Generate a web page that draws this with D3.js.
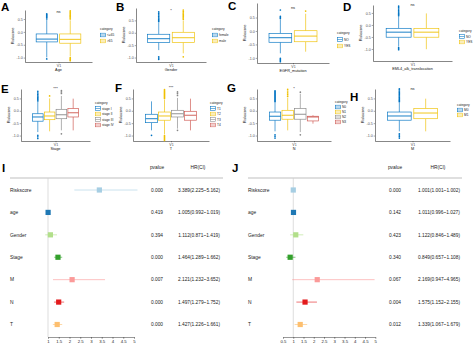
<!DOCTYPE html>
<html>
<head>
<meta charset="utf-8">
<script src="https://cdn.jsdelivr.net/npm/d3@7/dist/d3.min.js"></script>
<style>
  body { margin: 0; background: #fff; }
  svg { display: block; font-family: "Liberation Sans", Arial, Helvetica, sans-serif; }
</style>
</head>
<body>
<svg id="fig" width="474" height="347"></svg>
<script>
// ---- box plot data: [lower whisker, q1, median, q3, upper whisker] per group ----
const boxTicks = [-1, -0.5, 0, 0.5];

const ageGroups = ["<=65", ">65"];
const ageStats = [[-0.99, -0.39, -0.28, -0.08, 0.46], [-0.95, -0.44, -0.29, -0.08, 0.45]];
const ageOut = [[0.50, 0.55, 0.59, 0.63, 0.67, 0.70, -1.05],
                [0.50, 0.54, 0.58, 0.62, 0.66, 0.70, 0.74, 0.78, 0.82, -1.00, -1.04, -1.08, -1.12]];

const genderGroups = ["female", "male"];
const genderStats = [[-0.70, -0.39, -0.24, -0.06, 0.42], [-0.83, -0.39, -0.20, 0.02, 0.50]];
const genderOut = [[0.46, 0.50, 0.55, 0.60, 0.66, 0.72, 0.78, 0.84, -0.97, -1.02, -1.07],
                   [0.55, 0.60, 0.65, 0.70, 0.75, 0.80, 0.86, 0.92, -0.97]];

const egfrGroups = ["NO", "YES"];
const egfrStats = [[-0.83, -0.42, -0.25, -0.09, 0.42], [-0.77, -0.40, -0.19, 0.01, 0.64]];
const egfrOut = [[0.46, 0.50, 0.54, 0.78, -1.02, -1.06, -1.10, -1.14], [0.74]];

const emlGroups = ["NO", "YES"];
const emlStats = [[-0.90, -0.51, -0.30, -0.14, 0.34], [-1.01, -0.51, -0.30, -0.14, 0.48]];
const emlOut = [[0.38, 0.42, 0.46, 0.50, 0.55, 0.60, 0.66, 0.72, 0.78, -0.94, -0.98, -1.03], []];

const stageGroups = ["stage I", "stage II", "stage III", "stage IV"];
const stageStats = [[-0.86, -0.42, -0.25, -0.12, 0.36], [-0.83, -0.36, -0.21, -0.05, 0.50],
                    [-0.79, -0.32, -0.16, 0.06, 0.60], [-0.79, -0.25, -0.08, 0.09, 0.49]];
const stageOut = [[0.40, 0.45, 0.50, 0.55, 0.60, 0.66, 0.72, 0.79, -0.99, -1.05, -1.12],
                  [0.60], [0.70, 0.76, 0.82, -0.93], []];

const tGroups = ["T1", "T2", "T3", "T4"];
const tStats = [[-0.79, -0.48, -0.32, -0.14, 0.38], [-0.95, -0.38, -0.21, -0.05, 0.45],
                [-0.72, -0.25, -0.12, 0.02, 0.52], [-0.79, -0.38, -0.18, -0.02, 0.49]];
const tOut = [[-0.99],
              [0.50, 0.54, 0.58, 0.62, 0.66, 0.70, 0.74, 0.78, 0.82, 0.86, -1.00, -1.04, -1.08, -1.12, -1.16, -1.20],
              [0.62, 0.70, 0.76, -0.79], []];

const nGroups = ["N0", "N1", "N2", "N3"];
const nStats = [[-0.83, -0.38, -0.22, -0.05, 0.33], [-0.79, -0.34, -0.18, 0.02, 0.52],
                [-0.86, -0.34, -0.14, 0.09, 0.69], [-0.52, -0.41, -0.25, -0.22, -0.18]];
const nOut = [[0.37, 0.41, 0.45, 0.49, 0.53, 0.57, 0.61, 0.65, 0.69, 0.73, 0.77, 0.81, -0.97, -1.03, -1.10],
              [0.58, 0.65, 0.72, 0.80, 0.87], [0.75, -0.97], []];

const mGroups = ["M0", "M1"];
const mStats = [[-0.83, -0.38, -0.21, -0.05, 0.33], [-0.83, -0.32, -0.09, 0.09, 0.49]];
const mOut = [[0.37, 0.41, 0.45, 0.50, 0.55, 0.60, 0.65, 0.70, 0.75, 0.80, 0.85, 0.89, -0.93, -0.98, -1.04, -1.10], []];

// ---- Cox regression (univariate I, multivariate J) ----
const coxVars = ["Riskscore", "age", "Gender", "Stage", "M", "N", "T"];
const uniHR   = [3.389, 1.005, 1.112, 1.464, 2.121, 1.497, 1.427];
const uniLow  = [2.225, 0.992, 0.871, 1.289, 1.232, 1.279, 1.226];
const uniHigh = [5.162, 1.019, 1.419, 1.662, 3.652, 1.752, 1.661];
const uniP    = [0.000, 0.419, 0.394, 0.000, 0.007, 0.000, 0.000];
const multiHR   = [1.001, 1.011, 1.122, 0.849, 2.169, 1.575, 1.339];
const multiLow  = [1.001, 0.996, 0.846, 0.657, 0.947, 1.152, 1.067];
const multiHigh = [1.002, 1.027, 1.489, 1.108, 4.965, 2.155, 1.679];
const multiP    = [0.000, 0.142, 0.423, 0.340, 0.067, 0.004, 0.012];
const uniTicks = [1, 1.5, 2, 2.5, 3, 3.5, 4, 4.5, 5];
const multiTicks = [0.5, 1, 1.5, 2, 2.5, 3, 3.5, 4, 4.5, 5];

const jco = ["#0073C2", "#EFC000", "#868686", "#CD534C"];
const paired = ["#A6CEE3", "#1F78B4", "#B2DF8A", "#33A02C", "#FB9A99", "#E31A1C", "#FDBF6F"];

const svg = d3.select("#fig");
const fmt1 = d => d.toFixed(1);

function boxPanel(p) {
  const g = svg.append("g");
  const span = p.c - p.x0;
  const y = d3.scaleLinear().domain(p.ydom).range([p.bottom, p.top]);
  const band = d3.scaleBand().domain(p.groups)
    .range([p.c - span * 2 / 3, p.c + span * 2 / 3]).paddingInner(0.1);
  const xv = d3.scalePoint().domain(["V1"]).range([p.x0, p.c + span]).padding(0.5);

  const ya = g.append("g").attr("transform", `translate(${p.x0},0)`)
    .call(d3.axisLeft(y).tickValues(boxTicks).tickSize(1.3).tickSizeOuter(0).tickPadding(1).tickFormat(fmt1));
  const xa = g.append("g").attr("transform", `translate(0,${p.bottom})`)
    .call(d3.axisBottom(xv).tickSize(1.3).tickSizeOuter(0).tickPadding(0.8));
  [ya, xa].forEach(a => {
    a.select(".domain").attr("stroke", "#222").attr("stroke-width", 0.55);
    a.selectAll(".tick line").attr("stroke", "#333").attr("stroke-width", 0.45);
    a.selectAll(".tick text").attr("font-size", 3.6).attr("fill", "#4d4d4d").attr("font-family", null);
  });

  g.append("text").attr("transform", `translate(${p.x0 - 11},${(p.top + p.bottom) / 2}) rotate(-90)`)
    .attr("text-anchor", "middle").attr("font-size", 3.8).attr("fill", "#111").text("Riskscore");
  g.append("text").attr("x", p.c).attr("y", p.bottom + 9.2).attr("text-anchor", "middle")
    .attr("font-size", 3.8).attr("fill", "#111").text(p.title);

  const w = band.bandwidth();
  p.groups.forEach((grp, i) => {
    const s = p.stats[i], col = jco[i], x = band(grp), xc = x + w / 2;
    const bg = g.append("g").attr("stroke", col).attr("stroke-width", 0.65).attr("fill", "none");
    bg.append("line").attr("x1", xc).attr("x2", xc).attr("y1", y(s[0])).attr("y2", y(s[1]));
    bg.append("line").attr("x1", xc).attr("x2", xc).attr("y1", y(s[3])).attr("y2", y(s[4]));
    bg.append("rect").attr("x", x).attr("width", w).attr("y", y(s[3]))
      .attr("height", y(s[1]) - y(s[3])).attr("fill", "#fff");
    bg.append("line").attr("x1", x).attr("x2", x + w).attr("y1", y(s[2])).attr("y2", y(s[2]))
      .attr("stroke-width", 0.9);
    g.selectAll(null).data(p.out[i]).join("circle")
      .attr("cx", xc).attr("cy", d => y(d)).attr("r", 0.85).attr("fill", col);
  });

  g.append("text").attr("x", p.c).attr("y", p.sigY).attr("text-anchor", "middle")
    .attr("font-size", 4).attr("fill", "#222").text(p.sig);

  // legend
  const lg = g.append("g").attr("transform", `translate(${p.lx},${p.ly})`);
  lg.append("text").attr("y", 1.2).attr("font-size", 3.3).attr("fill", "#222").text("category");
  p.groups.forEach((grp, i) => {
    const yy = (i + 1) * p.step;
    lg.append("rect").attr("x", 0.3).attr("y", yy - 1.8).attr("width", 5).attr("height", 3.6)
      .attr("fill", "#fff").attr("stroke", jco[i]).attr("stroke-width", 0.55);
    lg.append("line").attr("x1", 0.3).attr("x2", 5.3).attr("y1", yy).attr("y2", yy)
      .attr("stroke", jco[i]).attr("stroke-width", 0.55);
    lg.append("text").attr("x", 7).attr("y", yy + 1.2).attr("font-size", 3.2).attr("fill", "#222").text(grp);
  });
}

const row1 = { top: 10, bottom: 62, ydom: [-1.17, 0.85] };
const row2 = { top: 89, bottom: 141, ydom: [-1.22, 0.88] };

boxPanel({ ...row1, x0: 25, c: 58.5, groups: ageGroups, stats: ageStats, out: ageOut, title: "Age",
  sig: "ns", sigY: 13, lx: 100, ly: 29, step: 6 });
boxPanel({ ...row1, top: 8, ydom: [-1.18, 1.0], x0: 136, c: 171, groups: genderGroups, stats: genderStats,
  out: genderOut, title: "Gender", sig: "*", sigY: 12, lx: 212, ly: 29, step: 6 });
boxPanel({ top: 3, bottom: 63, ydom: [-1.19, 1.04], x0: 257, c: 293, groups: egfrGroups, stats: egfrStats,
  out: egfrOut, title: "EGFR_mutation", sig: "ns", sigY: 8.5, lx: 337, ly: 33, step: 6.5 });
boxPanel({ top: 5, bottom: 61, ydom: [-1.5, 0.83], x0: 373, c: 412.5, groups: emlGroups, stats: emlStats,
  out: emlOut, title: "EML4_alk_translocation", sig: "ns", sigY: 5.5, lx: 459, ly: 31, step: 5.5 });

boxPanel({ ...row2, x0: 21, c: 55.5, groups: stageGroups, stats: stageStats, out: stageOut, title: "Stage",
  sig: "***", sigY: 90, lx: 95, ly: 103, step: 5.5 });
boxPanel({ ...row2, x0: 133, c: 171, groups: tGroups, stats: tStats, out: tOut, title: "T",
  sig: "***", sigY: 89, lx: 210, ly: 103, step: 5.5 });
boxPanel({ ...row2, x0: 257, c: 294, groups: nGroups, stats: nStats, out: nOut, title: "N",
  sig: "*", sigY: 90, lx: 335, ly: 102, step: 5 });
boxPanel({ ...row2, x0: 375, c: 412.5, groups: mGroups, stats: mStats, out: mOut, title: "M",
  sig: "ns", sigY: 89.5, lx: 457, ly: 105, step: 5 });

function forest(f) {
  const g = svg.append("g");
  const x = d3.scaleLinear().domain(f.xdom).range(f.xr);
  const ry = d3.scalePoint().domain(coxVars).range([190, 324.5]);
  const axisY = 337;

  g.append("line").attr("x1", f.l0).attr("x2", f.l1).attr("y1", 178).attr("y2", 178)
    .attr("stroke", "#b8b8b8").attr("stroke-width", 0.9);
  g.append("line").attr("x1", x(1)).attr("x2", x(1)).attr("y1", 178).attr("y2", axisY)
    .attr("stroke", "#cfcfcf").attr("stroke-width", 0.7);

  const ax = g.append("g").attr("transform", `translate(0,${axisY})`)
    .call(d3.axisBottom(x).tickValues(f.ticks).tickSize(1.8).tickSizeOuter(0).tickPadding(1.2).tickFormat(d => String(d)));
  ax.select(".domain").attr("stroke", "#333").attr("stroke-width", 0.5);
  ax.selectAll(".tick line").attr("stroke", "#333").attr("stroke-width", 0.5);
  ax.selectAll(".tick text").attr("font-size", 4.3).attr("fill", "#222").attr("font-family", null);

  g.append("text").attr("x", f.px).attr("y", 168.5).attr("text-anchor", "middle")
    .attr("font-size", 4.8).attr("fill", "#222").text("pvalue");
  g.append("text").attr("x", f.hx - 1).attr("y", 168.5).attr("text-anchor", "middle")
    .attr("font-size", 4.8).attr("fill", "#222").text("HR(CI)");

  coxVars.forEach((v, i) => {
    const yy = ry(v), col = paired[i];
    g.append("text").attr("x", f.l0).attr("y", yy + 1.7).attr("font-size", 4.9).attr("fill", "#222").text(v);
    g.append("line").attr("x1", x(f.low[i])).attr("x2", x(f.high[i])).attr("y1", yy).attr("y2", yy)
      .attr("stroke", col).attr("stroke-width", 1).attr("stroke-opacity", 0.6);
    g.append("rect").attr("x", x(f.hr[i]) - 2.6).attr("y", yy - 2.6).attr("width", 5.2).attr("height", 5.2)
      .attr("fill", col);
    g.append("text").attr("x", f.px).attr("y", yy + 1.7).attr("text-anchor", "middle")
      .attr("font-size", 4.8).attr("fill", "#222").text(f.p[i].toFixed(3));
    g.append("text").attr("x", f.hx).attr("y", yy + 1.7).attr("text-anchor", "middle")
      .attr("font-size", 4.8).attr("fill", "#222")
      .text(`${f.hr[i].toFixed(3)}(${f.low[i].toFixed(3)}~${f.high[i].toFixed(3)})`);
  });
}

forest({ xdom: [1, 5], xr: [48, 134], ticks: uniTicks, l0: 10, l1: 223, px: 157, hx: 199,
  hr: uniHR, low: uniLow, high: uniHigh, p: uniP });
forest({ xdom: [0.5, 5], xr: [283, 375.3], ticks: multiTicks, l0: 248, l1: 462, px: 395, hx: 439,
  hr: multiHR, low: multiLow, high: multiHigh, p: multiP });

// panel letters
const letters = [["A", 1, 10.5], ["B", 116, 10.5], ["C", 228, 10], ["D", 343, 10.5],
                 ["E", 1, 92.5], ["F", 115, 92], ["G", 227, 92], ["H", 350, 101],
                 ["I", 2, 172], ["J", 232, 172]];
svg.selectAll(".letter").data(letters).join("text").attr("class", "letter")
  .attr("x", d => d[1]).attr("y", d => d[2]).attr("font-size", 11.5).attr("font-weight", "bold")
  .attr("fill", "#000").text(d => d[0]);
</script>
</body>
</html>
